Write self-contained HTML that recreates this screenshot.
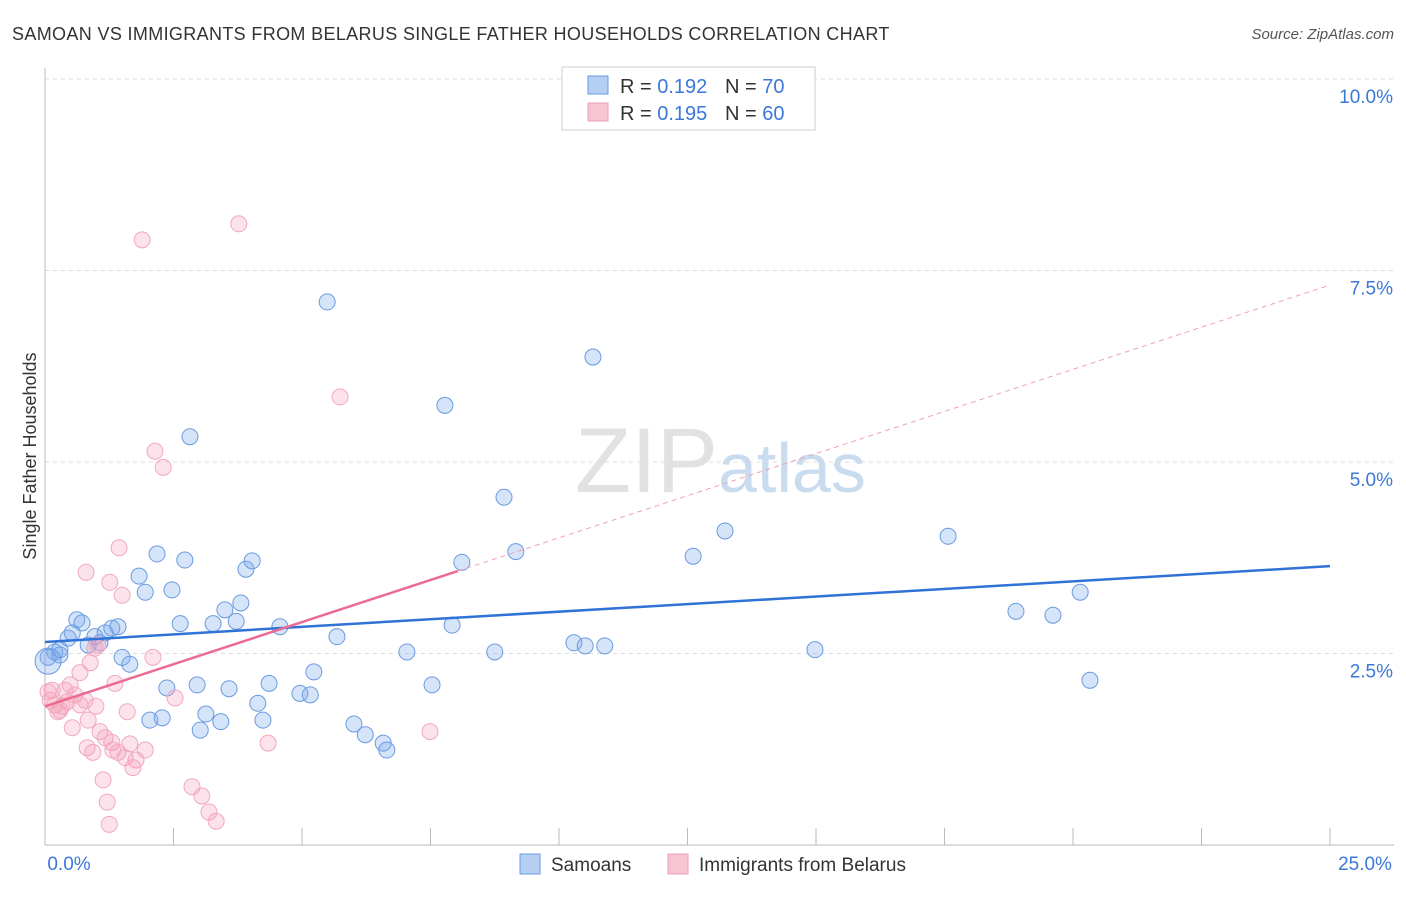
<!DOCTYPE html>
<html><head><meta charset="utf-8"><style>
body{margin:0;background:#fff;font-family:"Liberation Sans",sans-serif;}
svg text{font-family:"Liberation Sans",sans-serif;}
</style></head><body>
<svg id="chart" width="1406" height="892">
<text x="12" y="40" font-size="18" letter-spacing="0.35" fill="#333">SAMOAN VS IMMIGRANTS FROM BELARUS SINGLE FATHER HOUSEHOLDS CORRELATION CHART</text>
<text x="1394" y="39" font-size="15" fill="#555" font-style="italic" text-anchor="end">Source: ZipAtlas.com</text>
<text x="36" y="456" font-size="18" fill="#333" text-anchor="middle" transform="rotate(-90 36 456)">Single Father Households</text>
<text x="718" y="492" font-size="92" fill="#e2e2e2" text-anchor="end" font-family="Liberation Serif">ZIP</text>
<text x="718" y="492" font-size="70" fill="#c9dbef">atlas</text>
<g id="grid"></g><g id="axes"></g><g id="pts"></g><g id="lines"></g>
<g>
<rect x="562" y="67" width="253" height="63" fill="#fff" stroke="#ccc"/>
<rect x="588" y="76" width="20" height="18" fill="#b5cff3" stroke="#6a9be0"/>
<text x="620" y="93" font-size="20" fill="#333">R = <tspan fill="#3b78d8">0.192</tspan></text>
<text x="725" y="93" font-size="20" fill="#333">N = <tspan fill="#3b78d8">70</tspan></text>
<rect x="588" y="103" width="20" height="18" fill="#f8c4d4" stroke="#f0a0b8"/>
<text x="620" y="120" font-size="20" fill="#333">R = <tspan fill="#3b78d8">0.195</tspan></text>
<text x="725" y="120" font-size="20" fill="#333">N = <tspan fill="#3b78d8">60</tspan></text>
</g>
<g>
<rect x="520" y="854" width="20" height="20" fill="#b5cff3" stroke="#6a9be0"/>
<text x="551" y="871" font-size="19" fill="#333">Samoans</text>
<rect x="668" y="854" width="20" height="20" fill="#f8c4d4" stroke="#f0a0b8"/>
<text x="699" y="871" font-size="19" fill="#333">Immigrants from Belarus</text>
</g>
</svg>
<script>
const yTicks=[2.5,5,7.5,10];
const xTickCount=10;
const blueX=[0.19,0.29,0.45,0.53,0.62,0.72,0.84,0.97,1.07,1.17,1.30,1.42,1.50,1.65,1.83,1.95,2.04,2.18,2.28,2.37,2.47,2.63,2.72,2.82,2.96,3.02,3.13,3.27,3.42,3.50,3.58,3.72,3.81,3.91,4.03,4.14,4.24,4.36,4.57,4.96,5.16,5.23,5.49,5.68,6.01,6.23,6.58,6.65,7.04,7.53,7.78,7.92,8.11,8.75,8.93,9.16,10.29,10.51,10.66,10.89,12.61,13.23,14.98,17.57,18.89,19.61,20.14,20.33,0.06,0.29];
const blueY=[2.52,2.55,2.70,2.77,2.94,2.90,2.61,2.72,2.64,2.77,2.83,2.85,2.45,2.36,3.51,3.30,1.63,3.80,1.66,2.05,3.33,2.89,3.72,5.33,2.09,1.50,1.71,2.89,1.61,3.07,2.04,2.92,3.16,3.60,3.71,1.85,1.63,2.11,2.85,1.98,1.96,2.26,7.09,2.72,1.58,1.44,1.33,1.24,2.52,2.09,5.74,2.87,3.69,2.52,4.54,3.83,2.64,2.60,6.37,2.60,3.77,4.10,2.55,4.03,3.05,3.00,3.30,2.15,2.45,2.48];
const pinkX=[1.89,3.77,5.74,2.14,2.30,1.44,0.80,1.26,1.50,2.10,0.14,0.10,0.19,0.29,0.39,0.49,0.58,0.68,0.78,0.88,0.97,1.03,1.36,1.60,2.53,0.84,0.53,1.07,1.17,1.30,0.82,0.93,1.42,1.56,1.65,1.77,1.95,1.71,1.13,1.21,1.25,2.86,3.05,3.19,3.33,4.34,7.49,0.06,0.25,0.33,0.43,0.68,0.99,1.32];
const pinkY=[7.90,8.11,5.85,5.14,4.93,3.88,3.56,3.43,3.26,2.45,2.02,1.89,1.83,1.76,2.02,2.09,1.96,2.25,1.89,2.38,2.57,2.61,2.11,1.74,1.92,1.63,1.53,1.48,1.40,1.34,1.27,1.21,1.21,1.14,1.32,1.11,1.24,1.01,0.85,0.56,0.27,0.76,0.64,0.43,0.31,1.33,1.48,2.00,1.74,1.81,1.87,1.83,1.81,1.24];
const blueTrend=[2.65,3.64];
const pinkTrend=[1.81,7.31];
const pinkSolidEnd=8.03;
const NS="http://www.w3.org/2000/svg";
const X=v=>45+v*51.4, Y=v=>845-v*76.6;
function mk(t,a,p){const e=document.createElementNS(NS,t);for(const k in a)e.setAttribute(k,a[k]);document.getElementById(p).appendChild(e);return e;}
yTicks.forEach(t=>{
 const g=mk('line',{x1:45,x2:1394,y1:Y(t),y2:Y(t),stroke:'#ddd','stroke-dasharray':'4,4'},'grid');
 
 
 const l=mk('text',{x:1393,y:Y(t)+24,'font-size':19,fill:'#3b78d8','text-anchor':'end'},'axes');
 l.textContent=t.toFixed(1)+'%';
 
 
});
const ax=mk('line',{x1:45,x2:1394,y1:845,y2:845,stroke:'#bbb'},'axes');


const ay=mk('line',{x1:45,x2:45,y1:68,y2:845,stroke:'#bbb'},'axes');


for(let i=1;i<=xTickCount;i++){
 const t=mk('line',{x1:X(i*2.5),x2:X(i*2.5),y1:828,y2:845,stroke:'#bbb'},'axes');
 
 
}
[[0,'0.0%',69],[25,'25.0%',1365]].forEach(([v,s,px])=>{
 const l=mk('text',{x:px,y:870,'font-size':19,fill:'#3b78d8','text-anchor':'middle'},'axes');
 l.textContent=s;
 
 
});
blueX.forEach((x,i)=>{
 const c=mk('circle',{cx:X(x),cy:Y(blueY[i]),r:8,fill:'rgba(120,165,235,0.3)',stroke:'#6a9be0','stroke-width':1},'pts');
 
 
});
pinkX.forEach((x,i)=>{
 const c=mk('circle',{cx:X(x),cy:Y(pinkY[i]),r:8,fill:'rgba(245,160,185,0.3)',stroke:'#f2a8bf','stroke-width':1},'pts');
 
 
});
const big=mk('circle',{cx:X(0.06),cy:Y(2.4),r:13,fill:'rgba(120,165,235,0.3)',stroke:'#6a9be0'},'pts');


const bl=mk('line',{x1:X(0),y1:Y(blueTrend[0]),x2:X(25),y2:Y(blueTrend[1]),stroke:'#2f73d6','stroke-width':2.5},'lines');


const pe=pinkTrend[0]+(pinkTrend[1]-pinkTrend[0])*pinkSolidEnd/25;
const pl=mk('line',{x1:X(0),y1:Y(pinkTrend[0]),x2:X(pinkSolidEnd),y2:Y(pe),stroke:'#ec6b93','stroke-width':2.5},'lines');


const pd=mk('line',{x1:X(pinkSolidEnd),y1:Y(pe),x2:X(25),y2:Y(pinkTrend[1]),stroke:'#f0a0b8','stroke-width':1,'stroke-dasharray':'5,4'},'lines');


</script>
</body></html>
